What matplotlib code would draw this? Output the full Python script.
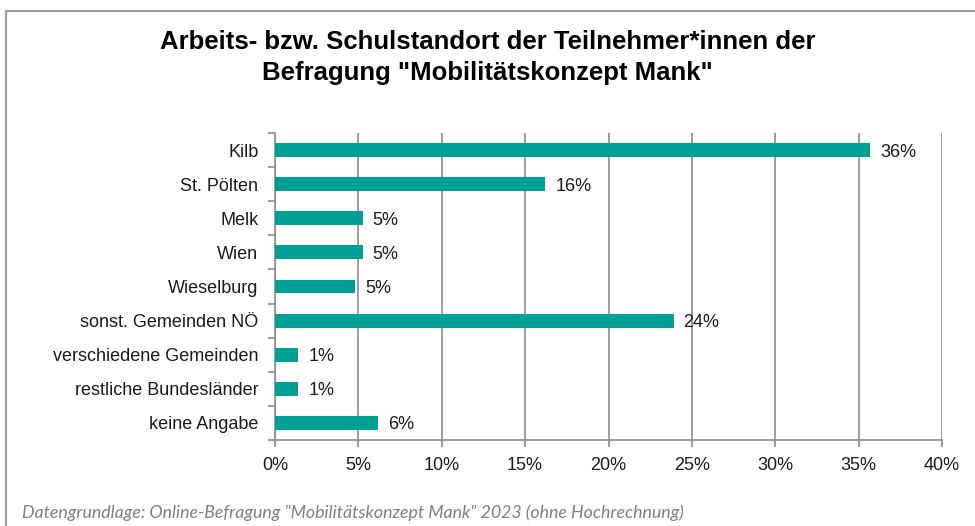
import numpy as np
import matplotlib
matplotlib.use("Agg")
import matplotlib.pyplot as plt
from matplotlib.ticker import FuncFormatter, FixedLocator

# data
orte = ["Kilb", "St. Pölten", "Melk", "Wien", "Wieselburg",
        "sonst. Gemeinden NÖ", "verschiedene Gemeinden",
        "restliche Bundesländer", "keine Angabe"]
anteile = [35.7, 16.2, 5.25, 5.25, 4.8, 23.9, 1.4, 1.4, 6.2]
labels = ["36%", "16%", "5%", "5%", "5%", "24%", "1%", "1%", "6%"]
xticks = [0, 5, 10, 15, 20, 25, 30, 35, 40]

teal = "#00A096"
grid_c = "#8C8C8C"

plt.rcParams["font.family"] = ["Liberation Sans", "DejaVu Sans"]

fig = plt.figure(figsize=(9.75, 5.26), dpi=100)
ax = fig.add_axes([275/975, 1-440/526, (942-275)/975, (440-133)/526])

y = np.arange(len(orte))
ax.barh(y, anteile, height=0.41, color=teal, zorder=3)
for yi, v, lab in zip(y, anteile, labels):
    ax.text(v + 0.6, yi, lab, va="center_baseline", ha="left", fontsize=13, color="#1a1a1a")

ax.set_ylim(len(orte) - 0.5, -0.5)
ax.set_xlim(0, 40)
ax.set_xticks(xticks)
ax.xaxis.set_major_formatter(FuncFormatter(lambda v, p: f"{v:.0f}%"))
ax.set_yticks(y)
ax.set_yticklabels(orte)
ax.yaxis.set_minor_locator(FixedLocator(np.arange(-0.5, len(orte) + 0.5, 1)))
ax.tick_params(axis="y", which="major", length=0, pad=12, labelsize=13, labelcolor="#1a1a1a")
ax.tick_params(axis="y", which="minor", length=5, color=grid_c, width=1.2, direction="out")
ax.tick_params(axis="x", length=5, color=grid_c, width=1.2, pad=7, labelsize=13, labelcolor="#1a1a1a")
ax.grid(axis="x", color=grid_c, linewidth=1.2, zorder=0)
for s in ["top", "right"]:
    ax.spines[s].set_visible(False)
for s in ["left", "bottom"]:
    ax.spines[s].set_color(grid_c)
    ax.spines[s].set_linewidth(1.2)

fig.text(0.5, 1-57.5/526, "Arbeits- bzw. Schulstandort der Teilnehmer*innen der\nBefragung \"Mobilitätskonzept Mank\"",
         ha="center", va="center", fontsize=18.5, fontweight="bold", linespacing=1.32)
fig.text(22/975, 1-513/526, "Datengrundlage: Online-Befragung \"Mobilitätskonzept Mank\" 2023 (ohne Hochrechnung)",
         ha="left", va="center", fontsize=12.8, style="italic", color="#7f7f7f", family=["Lato", "DejaVu Sans"])

# outer frame: only left and top edges are visible in the reference
fig.add_artist(plt.Line2D([6/975, 6/975], [0, 1-11/526], transform=fig.transFigure, color="#9a9a9a", lw=1.5))
fig.add_artist(plt.Line2D([6/975, 1], [1-11/526, 1-11/526], transform=fig.transFigure, color="#9a9a9a", lw=1.5))

fig.savefig("out.png", dpi=100)
